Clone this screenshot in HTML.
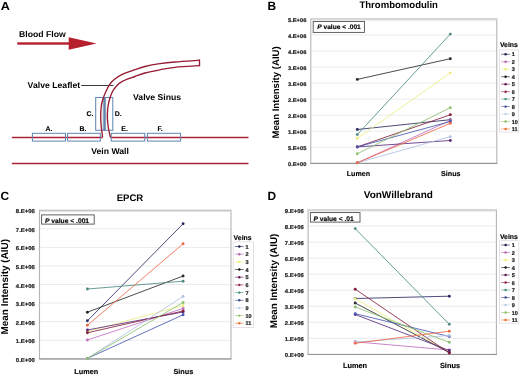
<!DOCTYPE html>
<html><head><meta charset="utf-8"><style>
html,body{margin:0;padding:0;background:#fff;width:520px;height:375px;overflow:hidden;font-family:"Liberation Sans", sans-serif;}
</style></head><body>
<svg width="520" height="375" viewBox="0 0 520 375" style="position:absolute;left:0;top:0;will-change:transform">
<g font-family='"Liberation Sans", sans-serif' text-rendering="geometricPrecision">
<text transform="translate(0.8,9.8) scale(1.1,1)" font-size="11.5" font-weight="bold" text-anchor="start" fill="#000" >A</text>
<text transform="translate(19.0,37.0) scale(1.02,1)" font-size="8.5" font-weight="bold" text-anchor="start" fill="#000" >Blood Flow</text>
<rect x="17.3" y="42.3" width="53" height="2.4" fill="#b71f2f"/>
<polygon points="68.7,37.3 96.6,43.6 68.7,49.8" fill="#b71f2f"/>
<text transform="translate(27.6,87.7) scale(1.02,1)" font-size="8.5" font-weight="bold" text-anchor="start" fill="#000" >Valve Leaflet</text>
<line x1="81.2" y1="85.5" x2="113.5" y2="85.5" stroke="#3c3c3c" stroke-width="1"/>
<text transform="translate(133.0,99.6) scale(1.02,1)" font-size="8.5" font-weight="bold" text-anchor="start" fill="#000" >Valve Sinus</text>
<text transform="translate(91.2,153.5) scale(1.02,1)" font-size="8.5" font-weight="bold" text-anchor="start" fill="#000" >Vein Wall</text>
<line x1="11.8" y1="137.4" x2="102.6" y2="137.4" stroke="#aa2438" stroke-width="1.45"/>
<line x1="110.4" y1="137.4" x2="248.5" y2="137.4" stroke="#aa2438" stroke-width="1.45"/>
<line x1="11.8" y1="163.5" x2="248.5" y2="163.5" stroke="#aa2438" stroke-width="1.45"/>
<rect x="32.4" y="133.3" width="33.10" height="7.8" fill="none" stroke="#5f84b2" stroke-width="1"/>
<text x="45.5" y="131.0" font-size="6.9" font-weight="bold" text-anchor="start" fill="#000"  stroke="#000" stroke-width="0.14">A.</text>
<rect x="67.6" y="133.3" width="32.70" height="7.8" fill="none" stroke="#5f84b2" stroke-width="1"/>
<text x="79.6" y="131.0" font-size="6.9" font-weight="bold" text-anchor="start" fill="#000"  stroke="#000" stroke-width="0.14">B.</text>
<rect x="111.2" y="133.3" width="33.60" height="7.8" fill="none" stroke="#5f84b2" stroke-width="1"/>
<text x="121.3" y="131.0" font-size="6.9" font-weight="bold" text-anchor="start" fill="#000"  stroke="#000" stroke-width="0.14">E.</text>
<rect x="147.4" y="133.3" width="33.20" height="7.8" fill="none" stroke="#5f84b2" stroke-width="1"/>
<text x="157.4" y="131.0" font-size="6.9" font-weight="bold" text-anchor="start" fill="#000"  stroke="#000" stroke-width="0.14">F.</text>
<rect x="102.7" y="97.5" width="3.4" height="32.8" fill="#94a9c0"/>
<rect x="95.7" y="97.5" width="9" height="32.8" fill="none" stroke="#5f84b2" stroke-width="1"/>
<rect x="104.4" y="97.5" width="8.4" height="32.8" fill="none" stroke="#5f84b2" stroke-width="1"/>
<text x="86.5" y="115.6" font-size="6.9" font-weight="bold" text-anchor="start" fill="#000"  stroke="#000" stroke-width="0.14">C.</text>
<text x="114.8" y="115.6" font-size="6.9" font-weight="bold" text-anchor="start" fill="#000"  stroke="#000" stroke-width="0.14">D.</text>
<path d="M102.6,137.2 C102.37,135.33 101.52,129.53 101.2,126 C100.88,122.47 100.68,119.33 100.7,116 C100.72,112.67 100.95,108.75 101.3,106 C101.65,103.25 102.07,101.83 102.8,99.5 C103.53,97.17 104.60,94.45 105.7,92 C106.80,89.55 107.98,86.87 109.4,84.8 C110.82,82.73 112.15,81.30 114.2,79.6 C116.25,77.90 118.23,76.25 121.7,74.6 C125.17,72.95 131.12,71.05 135,69.7 C138.88,68.35 140.83,67.50 145,66.5 C149.17,65.50 155.00,64.45 160,63.7 C165.00,62.95 168.42,62.58 175,62 C181.58,61.42 195.42,60.50 199.5,60.2" fill="none" stroke="#981c34" stroke-width="1.35"/>
<path d="M110.4,137.2 C110.07,135.67 108.90,131.20 108.4,128 C107.90,124.80 107.52,121.17 107.4,118 C107.28,114.83 107.40,111.92 107.7,109 C108.00,106.08 108.48,103.25 109.2,100.5 C109.92,97.75 110.82,94.88 112,92.5 C113.18,90.12 114.52,88.08 116.3,86.2 C118.08,84.32 119.58,82.82 122.7,81.2 C125.82,79.58 131.28,77.87 135,76.5 C138.72,75.13 140.83,74.12 145,73 C149.17,71.88 155.00,70.75 160,69.8 C165.00,68.85 168.42,68.00 175,67.3 C181.58,66.60 195.42,65.88 199.5,65.6" fill="none" stroke="#981c34" stroke-width="1.35"/>
<line x1="199.5" y1="59.5" x2="199.5" y2="66.3" stroke="#981c34" stroke-width="1.35"/>
<text x="267.6" y="9.6" font-size="11.9" font-weight="bold" text-anchor="start" fill="#000" >B</text>
<line x1="310.8" y1="147.18" x2="496.8" y2="147.18" stroke="#ebebeb" stroke-width="1"/>
<line x1="310.8" y1="131.16" x2="496.8" y2="131.16" stroke="#ebebeb" stroke-width="1"/>
<line x1="310.8" y1="115.13" x2="496.8" y2="115.13" stroke="#ebebeb" stroke-width="1"/>
<line x1="310.8" y1="99.11" x2="496.8" y2="99.11" stroke="#ebebeb" stroke-width="1"/>
<line x1="310.8" y1="83.09" x2="496.8" y2="83.09" stroke="#ebebeb" stroke-width="1"/>
<line x1="310.8" y1="67.07" x2="496.8" y2="67.07" stroke="#ebebeb" stroke-width="1"/>
<line x1="310.8" y1="51.04" x2="496.8" y2="51.04" stroke="#ebebeb" stroke-width="1"/>
<line x1="310.8" y1="35.02" x2="496.8" y2="35.02" stroke="#ebebeb" stroke-width="1"/>
<rect x="310.8" y="19" width="186.00" height="144.20" fill="none" stroke="#b4b4b4" stroke-width="1.1"/>
<line x1="310.8" y1="20" x2="496.8" y2="20" stroke="#dcdcdc" stroke-width="1"/>
<line x1="310.3" y1="163.5" x2="497.3" y2="163.5" stroke="#949494" stroke-width="1.05"/>
<text transform="translate(306.4,166.19) scale(1.06,1)" font-size="5.45" font-weight="bold" text-anchor="end" fill="#1e1e1e"  stroke="#1e1e1e" stroke-width="0.22">0.E+00</text>
<text transform="translate(306.4,150.16) scale(1.06,1)" font-size="5.45" font-weight="bold" text-anchor="end" fill="#1e1e1e"  stroke="#1e1e1e" stroke-width="0.22">5.E+05</text>
<text transform="translate(306.4,134.14) scale(1.06,1)" font-size="5.45" font-weight="bold" text-anchor="end" fill="#1e1e1e"  stroke="#1e1e1e" stroke-width="0.22">1.E+06</text>
<text transform="translate(306.4,118.12) scale(1.06,1)" font-size="5.45" font-weight="bold" text-anchor="end" fill="#1e1e1e"  stroke="#1e1e1e" stroke-width="0.22">2.E+06</text>
<text transform="translate(306.4,102.10) scale(1.06,1)" font-size="5.45" font-weight="bold" text-anchor="end" fill="#1e1e1e"  stroke="#1e1e1e" stroke-width="0.22">2.E+06</text>
<text transform="translate(306.4,86.08) scale(1.06,1)" font-size="5.45" font-weight="bold" text-anchor="end" fill="#1e1e1e"  stroke="#1e1e1e" stroke-width="0.22">3.E+06</text>
<text transform="translate(306.4,70.05) scale(1.06,1)" font-size="5.45" font-weight="bold" text-anchor="end" fill="#1e1e1e"  stroke="#1e1e1e" stroke-width="0.22">3.E+06</text>
<text transform="translate(306.4,54.03) scale(1.06,1)" font-size="5.45" font-weight="bold" text-anchor="end" fill="#1e1e1e"  stroke="#1e1e1e" stroke-width="0.22">4.E+06</text>
<text transform="translate(306.4,38.01) scale(1.06,1)" font-size="5.45" font-weight="bold" text-anchor="end" fill="#1e1e1e"  stroke="#1e1e1e" stroke-width="0.22">4.E+06</text>
<text transform="translate(306.4,21.99) scale(1.06,1)" font-size="5.45" font-weight="bold" text-anchor="end" fill="#1e1e1e"  stroke="#1e1e1e" stroke-width="0.22">5.E+06</text>
<text x="0" y="0" font-size="9.6" font-weight="bold" text-anchor="middle" transform="translate(279.1,92.4) rotate(-90)">Mean Intensity (AIU)</text>
<text x="398.7" y="7.7" font-size="9.55" font-weight="bold" text-anchor="middle" fill="#000" >Thrombomodulin</text>
<rect x="313.2" y="21.5" width="51.20" height="10.90" fill="#fff" stroke="#505050" stroke-width="0.9"/>
<text x="317.3" y="29.3" font-size="6.6" font-weight="bold" stroke="#000" stroke-width="0.15"><tspan font-style="italic">P</tspan> value &lt; .001</text>
<text x="358.4" y="175.6" font-size="7.15" font-weight="bold" text-anchor="middle" fill="#000"  stroke="#000" stroke-width="0.14">Lumen</text>
<text x="450.8" y="175.6" font-size="7.15" font-weight="bold" text-anchor="middle" fill="#000"  stroke="#000" stroke-width="0.14">Sinus</text>
<line x1="357.3" y1="129.5" x2="450.3" y2="119.7" stroke="#2c2c66" stroke-width="0.85"/>
<circle cx="357.3" cy="129.5" r="1.45" fill="#2c2c66"/>
<circle cx="450.3" cy="119.7" r="1.45" fill="#2c2c66"/>
<line x1="357.3" y1="162.8" x2="450.3" y2="120.5" stroke="#c070c0" stroke-width="0.85"/>
<circle cx="357.3" cy="162.8" r="1.45" fill="#c070c0"/>
<circle cx="450.3" cy="120.5" r="1.45" fill="#c070c0"/>
<line x1="357.3" y1="138.3" x2="450.3" y2="72.9" stroke="#ecec84" stroke-width="0.85"/>
<circle cx="357.3" cy="138.3" r="1.45" fill="#ecec84"/>
<circle cx="450.3" cy="72.9" r="1.45" fill="#ecec84"/>
<line x1="357.3" y1="79.4" x2="450.3" y2="58.7" stroke="#2a2a2a" stroke-width="0.85"/>
<circle cx="357.3" cy="79.4" r="1.45" fill="#2a2a2a"/>
<circle cx="450.3" cy="58.7" r="1.45" fill="#2a2a2a"/>
<line x1="357.3" y1="146.9" x2="450.3" y2="140.5" stroke="#5c2c80" stroke-width="0.85"/>
<circle cx="357.3" cy="146.9" r="1.45" fill="#5c2c80"/>
<circle cx="450.3" cy="140.5" r="1.45" fill="#5c2c80"/>
<line x1="357.3" y1="146.9" x2="450.3" y2="114.8" stroke="#862040" stroke-width="0.85"/>
<circle cx="357.3" cy="146.9" r="1.45" fill="#862040"/>
<circle cx="450.3" cy="114.8" r="1.45" fill="#862040"/>
<line x1="357.3" y1="134.6" x2="450.3" y2="34.1" stroke="#4e8a84" stroke-width="0.85"/>
<circle cx="357.3" cy="134.6" r="1.45" fill="#4e8a84"/>
<circle cx="450.3" cy="34.1" r="1.45" fill="#4e8a84"/>
<line x1="357.3" y1="146.9" x2="450.3" y2="121.5" stroke="#4858b0" stroke-width="0.85"/>
<circle cx="357.3" cy="146.9" r="1.45" fill="#4858b0"/>
<circle cx="450.3" cy="121.5" r="1.45" fill="#4858b0"/>
<line x1="357.3" y1="162.8" x2="450.3" y2="136.6" stroke="#b0c2e4" stroke-width="0.85"/>
<circle cx="357.3" cy="162.8" r="1.45" fill="#b0c2e4"/>
<circle cx="450.3" cy="136.6" r="1.45" fill="#b0c2e4"/>
<line x1="357.3" y1="153.8" x2="450.3" y2="107.7" stroke="#8cc070" stroke-width="0.85"/>
<circle cx="357.3" cy="153.8" r="1.45" fill="#8cc070"/>
<circle cx="450.3" cy="107.7" r="1.45" fill="#8cc070"/>
<line x1="357.3" y1="162.8" x2="450.3" y2="123.3" stroke="#ec6a48" stroke-width="0.85"/>
<circle cx="357.3" cy="162.8" r="1.45" fill="#ec6a48"/>
<circle cx="450.3" cy="123.3" r="1.45" fill="#ec6a48"/>
<text x="508.9" y="46.9" font-size="6.9" font-weight="bold" text-anchor="middle" fill="#000"  stroke="#000" stroke-width="0.14">Veins</text>
<rect x="499.5" y="49.9" width="19.00" height="82.10" fill="none" stroke="#e2dae2" stroke-width="0.8"/>
<line x1="501.2" y1="54.3" x2="509.9" y2="54.3" stroke="#1c1c50" stroke-width="0.8" opacity="0.75"/>
<circle cx="505.6" cy="54.3" r="1.2" fill="#1c1c50"/>
<text x="511.7" y="56.3" font-size="5.5" font-weight="bold" text-anchor="start" fill="#1e1e1e"  stroke="#1e1e1e" stroke-width="0.22">1</text>
<line x1="501.2" y1="61.8" x2="509.9" y2="61.8" stroke="#b862b0" stroke-width="0.8" opacity="0.75"/>
<circle cx="505.6" cy="61.8" r="1.2" fill="#b862b0"/>
<text x="511.7" y="63.8" font-size="5.5" font-weight="bold" text-anchor="start" fill="#1e1e1e"  stroke="#1e1e1e" stroke-width="0.22">2</text>
<line x1="501.2" y1="69.2" x2="509.9" y2="69.2" stroke="#eeee78" stroke-width="0.8" opacity="0.75"/>
<circle cx="505.6" cy="69.2" r="1.2" fill="#eeee78"/>
<text x="511.7" y="71.2" font-size="5.5" font-weight="bold" text-anchor="start" fill="#1e1e1e"  stroke="#1e1e1e" stroke-width="0.22">3</text>
<line x1="501.2" y1="76.7" x2="509.9" y2="76.7" stroke="#141414" stroke-width="0.8" opacity="0.75"/>
<circle cx="505.6" cy="76.7" r="1.2" fill="#141414"/>
<text x="511.7" y="78.7" font-size="5.5" font-weight="bold" text-anchor="start" fill="#1e1e1e"  stroke="#1e1e1e" stroke-width="0.22">4</text>
<line x1="501.2" y1="84.2" x2="509.9" y2="84.2" stroke="#5e1652" stroke-width="0.8" opacity="0.75"/>
<circle cx="505.6" cy="84.2" r="1.2" fill="#5e1652"/>
<text x="511.7" y="86.2" font-size="5.5" font-weight="bold" text-anchor="start" fill="#1e1e1e"  stroke="#1e1e1e" stroke-width="0.22">5</text>
<line x1="501.2" y1="91.7" x2="509.9" y2="91.7" stroke="#922052" stroke-width="0.8" opacity="0.75"/>
<circle cx="505.6" cy="91.7" r="1.2" fill="#922052"/>
<text x="511.7" y="93.7" font-size="5.5" font-weight="bold" text-anchor="start" fill="#1e1e1e"  stroke="#1e1e1e" stroke-width="0.22">6</text>
<line x1="501.2" y1="99.1" x2="509.9" y2="99.1" stroke="#3c9070" stroke-width="0.8" opacity="0.75"/>
<circle cx="505.6" cy="99.1" r="1.2" fill="#3c9070"/>
<text x="511.7" y="101.1" font-size="5.5" font-weight="bold" text-anchor="start" fill="#1e1e1e"  stroke="#1e1e1e" stroke-width="0.22">7</text>
<line x1="501.2" y1="106.6" x2="509.9" y2="106.6" stroke="#3a4a94" stroke-width="0.8" opacity="0.75"/>
<circle cx="505.6" cy="106.6" r="1.2" fill="#3a4a94"/>
<text x="511.7" y="108.6" font-size="5.5" font-weight="bold" text-anchor="start" fill="#1e1e1e"  stroke="#1e1e1e" stroke-width="0.22">8</text>
<line x1="501.2" y1="114.1" x2="509.9" y2="114.1" stroke="#bccbe8" stroke-width="0.8" opacity="0.75"/>
<circle cx="505.6" cy="114.1" r="1.2" fill="#bccbe8"/>
<text x="511.7" y="116.1" font-size="5.5" font-weight="bold" text-anchor="start" fill="#1e1e1e"  stroke="#1e1e1e" stroke-width="0.22">9</text>
<line x1="501.2" y1="121.5" x2="509.9" y2="121.5" stroke="#90c064" stroke-width="0.8" opacity="0.75"/>
<circle cx="505.6" cy="121.5" r="1.2" fill="#90c064"/>
<text x="511.7" y="123.5" font-size="5.5" font-weight="bold" text-anchor="start" fill="#1e1e1e"  stroke="#1e1e1e" stroke-width="0.22">10</text>
<line x1="501.2" y1="129.0" x2="509.9" y2="129.0" stroke="#f07030" stroke-width="0.8" opacity="0.75"/>
<circle cx="505.6" cy="129.0" r="1.2" fill="#f07030"/>
<text x="511.7" y="131.0" font-size="5.5" font-weight="bold" text-anchor="start" fill="#1e1e1e"  stroke="#1e1e1e" stroke-width="0.22">11</text>
<text x="0.5" y="199.7" font-size="11.9" font-weight="bold" text-anchor="start" fill="#000" >C</text>
<line x1="39.5" y1="340.24" x2="231" y2="340.24" stroke="#ebebeb" stroke-width="1"/>
<line x1="39.5" y1="321.68" x2="231" y2="321.68" stroke="#ebebeb" stroke-width="1"/>
<line x1="39.5" y1="303.11" x2="231" y2="303.11" stroke="#ebebeb" stroke-width="1"/>
<line x1="39.5" y1="284.55" x2="231" y2="284.55" stroke="#ebebeb" stroke-width="1"/>
<line x1="39.5" y1="265.99" x2="231" y2="265.99" stroke="#ebebeb" stroke-width="1"/>
<line x1="39.5" y1="247.43" x2="231" y2="247.43" stroke="#ebebeb" stroke-width="1"/>
<line x1="39.5" y1="228.86" x2="231" y2="228.86" stroke="#ebebeb" stroke-width="1"/>
<rect x="39.5" y="210.3" width="191.50" height="148.50" fill="none" stroke="#b4b4b4" stroke-width="1.1"/>
<line x1="39.5" y1="211.3" x2="231" y2="211.3" stroke="#dcdcdc" stroke-width="1"/>
<line x1="39.0" y1="358.9" x2="231.5" y2="358.9" stroke="#949494" stroke-width="1.05"/>
<text transform="translate(34.8,361.84) scale(1.06,1)" font-size="5.6" font-weight="bold" text-anchor="end" fill="#1e1e1e"  stroke="#1e1e1e" stroke-width="0.22">0.E+00</text>
<text transform="translate(34.8,343.28) scale(1.06,1)" font-size="5.6" font-weight="bold" text-anchor="end" fill="#1e1e1e"  stroke="#1e1e1e" stroke-width="0.22">1.E+06</text>
<text transform="translate(34.8,324.72) scale(1.06,1)" font-size="5.6" font-weight="bold" text-anchor="end" fill="#1e1e1e"  stroke="#1e1e1e" stroke-width="0.22">2.E+06</text>
<text transform="translate(34.8,306.15) scale(1.06,1)" font-size="5.6" font-weight="bold" text-anchor="end" fill="#1e1e1e"  stroke="#1e1e1e" stroke-width="0.22">3.E+06</text>
<text transform="translate(34.8,287.59) scale(1.06,1)" font-size="5.6" font-weight="bold" text-anchor="end" fill="#1e1e1e"  stroke="#1e1e1e" stroke-width="0.22">4.E+06</text>
<text transform="translate(34.8,269.03) scale(1.06,1)" font-size="5.6" font-weight="bold" text-anchor="end" fill="#1e1e1e"  stroke="#1e1e1e" stroke-width="0.22">5.E+06</text>
<text transform="translate(34.8,250.47) scale(1.06,1)" font-size="5.6" font-weight="bold" text-anchor="end" fill="#1e1e1e"  stroke="#1e1e1e" stroke-width="0.22">6.E+06</text>
<text transform="translate(34.8,231.90) scale(1.06,1)" font-size="5.6" font-weight="bold" text-anchor="end" fill="#1e1e1e"  stroke="#1e1e1e" stroke-width="0.22">7.E+06</text>
<text transform="translate(34.8,213.34) scale(1.06,1)" font-size="5.6" font-weight="bold" text-anchor="end" fill="#1e1e1e"  stroke="#1e1e1e" stroke-width="0.22">8.E+06</text>
<text x="0" y="0" font-size="9.95" font-weight="bold" text-anchor="middle" transform="translate(8.0,286.7) rotate(-90)">Mean Intensity (AIU)</text>
<text x="130" y="201.1" font-size="9.55" font-weight="bold" text-anchor="middle" fill="#000" >EPCR</text>
<rect x="41.6" y="214.9" width="52.60" height="9.20" fill="#fff" stroke="#505050" stroke-width="0.9"/>
<text x="45.0" y="222.6" font-size="6.7" font-weight="bold" stroke="#000" stroke-width="0.15"><tspan font-style="italic">P</tspan> value &lt; .001</text>
<text x="86.3" y="373.8" font-size="7.3" font-weight="bold" text-anchor="middle" fill="#000"  stroke="#000" stroke-width="0.14">Lumen</text>
<text x="183.4" y="373.8" font-size="7.3" font-weight="bold" text-anchor="middle" fill="#000"  stroke="#000" stroke-width="0.14">Sinus</text>
<line x1="87.4" y1="320.8" x2="183.1" y2="223.8" stroke="#2c2c66" stroke-width="0.85"/>
<circle cx="87.4" cy="320.8" r="1.45" fill="#2c2c66"/>
<circle cx="183.1" cy="223.8" r="1.45" fill="#2c2c66"/>
<line x1="87.4" y1="340.0" x2="183.1" y2="308.4" stroke="#c070c0" stroke-width="0.85"/>
<circle cx="87.4" cy="340.0" r="1.45" fill="#c070c0"/>
<circle cx="183.1" cy="308.4" r="1.45" fill="#c070c0"/>
<line x1="87.4" y1="331.5" x2="183.1" y2="305.5" stroke="#ecec84" stroke-width="0.85"/>
<circle cx="87.4" cy="331.5" r="1.45" fill="#ecec84"/>
<circle cx="183.1" cy="305.5" r="1.45" fill="#ecec84"/>
<line x1="87.4" y1="312.2" x2="183.1" y2="276.0" stroke="#2a2a2a" stroke-width="0.85"/>
<circle cx="87.4" cy="312.2" r="1.45" fill="#2a2a2a"/>
<circle cx="183.1" cy="276.0" r="1.45" fill="#2a2a2a"/>
<line x1="87.4" y1="330.0" x2="183.1" y2="312.0" stroke="#5c2c80" stroke-width="0.85"/>
<circle cx="87.4" cy="330.0" r="1.45" fill="#5c2c80"/>
<circle cx="183.1" cy="312.0" r="1.45" fill="#5c2c80"/>
<line x1="87.4" y1="332.8" x2="183.1" y2="311.0" stroke="#862040" stroke-width="0.85"/>
<circle cx="87.4" cy="332.8" r="1.45" fill="#862040"/>
<circle cx="183.1" cy="311.0" r="1.45" fill="#862040"/>
<line x1="87.4" y1="289.0" x2="183.1" y2="281.2" stroke="#4e8a84" stroke-width="0.85"/>
<circle cx="87.4" cy="289.0" r="1.45" fill="#4e8a84"/>
<circle cx="183.1" cy="281.2" r="1.45" fill="#4e8a84"/>
<line x1="87.4" y1="358.4" x2="183.1" y2="314.8" stroke="#4858b0" stroke-width="0.85"/>
<circle cx="87.4" cy="358.4" r="1.45" fill="#4858b0"/>
<circle cx="183.1" cy="314.8" r="1.45" fill="#4858b0"/>
<line x1="87.4" y1="358.4" x2="183.1" y2="296.4" stroke="#b0c2e4" stroke-width="0.85"/>
<circle cx="87.4" cy="358.4" r="1.45" fill="#b0c2e4"/>
<circle cx="183.1" cy="296.4" r="1.45" fill="#b0c2e4"/>
<line x1="87.4" y1="358.4" x2="183.1" y2="302.5" stroke="#8cc070" stroke-width="0.85"/>
<circle cx="87.4" cy="358.4" r="1.45" fill="#8cc070"/>
<circle cx="183.1" cy="302.5" r="1.45" fill="#8cc070"/>
<line x1="87.4" y1="325.3" x2="183.1" y2="243.8" stroke="#ec6a48" stroke-width="0.85"/>
<circle cx="87.4" cy="325.3" r="1.45" fill="#ec6a48"/>
<circle cx="183.1" cy="243.8" r="1.45" fill="#ec6a48"/>
<text x="242.6" y="239.5" font-size="6.9" font-weight="bold" text-anchor="middle" fill="#000"  stroke="#000" stroke-width="0.14">Veins</text>
<rect x="233.2" y="241.9" width="20.20" height="85.70" fill="none" stroke="#e2dae2" stroke-width="0.8"/>
<line x1="234.89999999999998" y1="246.5" x2="243.6" y2="246.5" stroke="#1c1c50" stroke-width="0.8" opacity="0.75"/>
<circle cx="239.29999999999998" cy="246.5" r="1.2" fill="#1c1c50"/>
<text x="245.39999999999998" y="248.5" font-size="5.5" font-weight="bold" text-anchor="start" fill="#1e1e1e"  stroke="#1e1e1e" stroke-width="0.22">1</text>
<line x1="234.89999999999998" y1="254.2" x2="243.6" y2="254.2" stroke="#b862b0" stroke-width="0.8" opacity="0.75"/>
<circle cx="239.29999999999998" cy="254.2" r="1.2" fill="#b862b0"/>
<text x="245.39999999999998" y="256.2" font-size="5.5" font-weight="bold" text-anchor="start" fill="#1e1e1e"  stroke="#1e1e1e" stroke-width="0.22">2</text>
<line x1="234.89999999999998" y1="261.9" x2="243.6" y2="261.9" stroke="#eeee78" stroke-width="0.8" opacity="0.75"/>
<circle cx="239.29999999999998" cy="261.9" r="1.2" fill="#eeee78"/>
<text x="245.39999999999998" y="263.9" font-size="5.5" font-weight="bold" text-anchor="start" fill="#1e1e1e"  stroke="#1e1e1e" stroke-width="0.22">3</text>
<line x1="234.89999999999998" y1="269.5" x2="243.6" y2="269.5" stroke="#141414" stroke-width="0.8" opacity="0.75"/>
<circle cx="239.29999999999998" cy="269.5" r="1.2" fill="#141414"/>
<text x="245.39999999999998" y="271.5" font-size="5.5" font-weight="bold" text-anchor="start" fill="#1e1e1e"  stroke="#1e1e1e" stroke-width="0.22">4</text>
<line x1="234.89999999999998" y1="277.2" x2="243.6" y2="277.2" stroke="#5e1652" stroke-width="0.8" opacity="0.75"/>
<circle cx="239.29999999999998" cy="277.2" r="1.2" fill="#5e1652"/>
<text x="245.39999999999998" y="279.2" font-size="5.5" font-weight="bold" text-anchor="start" fill="#1e1e1e"  stroke="#1e1e1e" stroke-width="0.22">5</text>
<line x1="234.89999999999998" y1="284.9" x2="243.6" y2="284.9" stroke="#922052" stroke-width="0.8" opacity="0.75"/>
<circle cx="239.29999999999998" cy="284.9" r="1.2" fill="#922052"/>
<text x="245.39999999999998" y="286.9" font-size="5.5" font-weight="bold" text-anchor="start" fill="#1e1e1e"  stroke="#1e1e1e" stroke-width="0.22">6</text>
<line x1="234.89999999999998" y1="292.6" x2="243.6" y2="292.6" stroke="#3c9070" stroke-width="0.8" opacity="0.75"/>
<circle cx="239.29999999999998" cy="292.6" r="1.2" fill="#3c9070"/>
<text x="245.39999999999998" y="294.6" font-size="5.5" font-weight="bold" text-anchor="start" fill="#1e1e1e"  stroke="#1e1e1e" stroke-width="0.22">7</text>
<line x1="234.89999999999998" y1="300.3" x2="243.6" y2="300.3" stroke="#3a4a94" stroke-width="0.8" opacity="0.75"/>
<circle cx="239.29999999999998" cy="300.3" r="1.2" fill="#3a4a94"/>
<text x="245.39999999999998" y="302.3" font-size="5.5" font-weight="bold" text-anchor="start" fill="#1e1e1e"  stroke="#1e1e1e" stroke-width="0.22">8</text>
<line x1="234.89999999999998" y1="307.9" x2="243.6" y2="307.9" stroke="#bccbe8" stroke-width="0.8" opacity="0.75"/>
<circle cx="239.29999999999998" cy="307.9" r="1.2" fill="#bccbe8"/>
<text x="245.39999999999998" y="309.9" font-size="5.5" font-weight="bold" text-anchor="start" fill="#1e1e1e"  stroke="#1e1e1e" stroke-width="0.22">9</text>
<line x1="234.89999999999998" y1="315.6" x2="243.6" y2="315.6" stroke="#90c064" stroke-width="0.8" opacity="0.75"/>
<circle cx="239.29999999999998" cy="315.6" r="1.2" fill="#90c064"/>
<text x="245.39999999999998" y="317.6" font-size="5.5" font-weight="bold" text-anchor="start" fill="#1e1e1e"  stroke="#1e1e1e" stroke-width="0.22">10</text>
<line x1="234.89999999999998" y1="323.3" x2="243.6" y2="323.3" stroke="#f07030" stroke-width="0.8" opacity="0.75"/>
<circle cx="239.29999999999998" cy="323.3" r="1.2" fill="#f07030"/>
<text x="245.39999999999998" y="325.3" font-size="5.5" font-weight="bold" text-anchor="start" fill="#1e1e1e"  stroke="#1e1e1e" stroke-width="0.22">11</text>
<text x="267.4" y="199.6" font-size="11.9" font-weight="bold" text-anchor="start" fill="#000" >D</text>
<line x1="308.1" y1="338.36" x2="496.4" y2="338.36" stroke="#ebebeb" stroke-width="1"/>
<line x1="308.1" y1="322.31" x2="496.4" y2="322.31" stroke="#ebebeb" stroke-width="1"/>
<line x1="308.1" y1="306.27" x2="496.4" y2="306.27" stroke="#ebebeb" stroke-width="1"/>
<line x1="308.1" y1="290.22" x2="496.4" y2="290.22" stroke="#ebebeb" stroke-width="1"/>
<line x1="308.1" y1="274.18" x2="496.4" y2="274.18" stroke="#ebebeb" stroke-width="1"/>
<line x1="308.1" y1="258.13" x2="496.4" y2="258.13" stroke="#ebebeb" stroke-width="1"/>
<line x1="308.1" y1="242.09" x2="496.4" y2="242.09" stroke="#ebebeb" stroke-width="1"/>
<line x1="308.1" y1="226.04" x2="496.4" y2="226.04" stroke="#ebebeb" stroke-width="1"/>
<rect x="308.1" y="210.0" width="188.30" height="144.40" fill="none" stroke="#b4b4b4" stroke-width="1.1"/>
<line x1="308.1" y1="211.0" x2="496.4" y2="211.0" stroke="#dcdcdc" stroke-width="1"/>
<line x1="307.6" y1="354.5" x2="496.9" y2="354.5" stroke="#949494" stroke-width="1.05"/>
<text transform="translate(303.8,357.44) scale(1.06,1)" font-size="5.6" font-weight="bold" text-anchor="end" fill="#1e1e1e"  stroke="#1e1e1e" stroke-width="0.22">0.E+00</text>
<text transform="translate(303.8,341.40) scale(1.06,1)" font-size="5.6" font-weight="bold" text-anchor="end" fill="#1e1e1e"  stroke="#1e1e1e" stroke-width="0.22">1.E+06</text>
<text transform="translate(303.8,325.35) scale(1.06,1)" font-size="5.6" font-weight="bold" text-anchor="end" fill="#1e1e1e"  stroke="#1e1e1e" stroke-width="0.22">2.E+06</text>
<text transform="translate(303.8,309.31) scale(1.06,1)" font-size="5.6" font-weight="bold" text-anchor="end" fill="#1e1e1e"  stroke="#1e1e1e" stroke-width="0.22">3.E+06</text>
<text transform="translate(303.8,293.26) scale(1.06,1)" font-size="5.6" font-weight="bold" text-anchor="end" fill="#1e1e1e"  stroke="#1e1e1e" stroke-width="0.22">4.E+06</text>
<text transform="translate(303.8,277.22) scale(1.06,1)" font-size="5.6" font-weight="bold" text-anchor="end" fill="#1e1e1e"  stroke="#1e1e1e" stroke-width="0.22">5.E+06</text>
<text transform="translate(303.8,261.17) scale(1.06,1)" font-size="5.6" font-weight="bold" text-anchor="end" fill="#1e1e1e"  stroke="#1e1e1e" stroke-width="0.22">6.E+06</text>
<text transform="translate(303.8,245.13) scale(1.06,1)" font-size="5.6" font-weight="bold" text-anchor="end" fill="#1e1e1e"  stroke="#1e1e1e" stroke-width="0.22">7.E+06</text>
<text transform="translate(303.8,229.09) scale(1.06,1)" font-size="5.6" font-weight="bold" text-anchor="end" fill="#1e1e1e"  stroke="#1e1e1e" stroke-width="0.22">8.E+06</text>
<text transform="translate(303.8,213.04) scale(1.06,1)" font-size="5.6" font-weight="bold" text-anchor="end" fill="#1e1e1e"  stroke="#1e1e1e" stroke-width="0.22">9.E+06</text>
<text x="0" y="0" font-size="9.85" font-weight="bold" text-anchor="middle" transform="translate(276.9,281.0) rotate(-90)">Mean Intensity (AIU)</text>
<text x="398.3" y="197.8" font-size="10.0" font-weight="bold" text-anchor="middle" fill="#000" >VonWillebrand</text>
<rect x="310.4" y="212.6" width="49.60" height="9.50" fill="#fff" stroke="#505050" stroke-width="0.9"/>
<text x="313.4" y="220.5" font-size="6.7" font-weight="bold" stroke="#000" stroke-width="0.15"><tspan font-style="italic">P</tspan> value &lt; .01</text>
<text x="355" y="367.6" font-size="7.4" font-weight="bold" text-anchor="middle" fill="#000"  stroke="#000" stroke-width="0.14">Lumen</text>
<text x="450" y="367.6" font-size="7.4" font-weight="bold" text-anchor="middle" fill="#000"  stroke="#000" stroke-width="0.14">Sinus</text>
<line x1="355.2" y1="298.5" x2="449.3" y2="296.2" stroke="#2c2c66" stroke-width="0.85"/>
<circle cx="355.2" cy="298.5" r="1.45" fill="#2c2c66"/>
<circle cx="449.3" cy="296.2" r="1.45" fill="#2c2c66"/>
<line x1="355.2" y1="341.8" x2="449.3" y2="350.0" stroke="#c070c0" stroke-width="0.85"/>
<circle cx="355.2" cy="341.8" r="1.45" fill="#c070c0"/>
<circle cx="449.3" cy="350.0" r="1.45" fill="#c070c0"/>
<line x1="355.2" y1="298.8" x2="449.3" y2="352.0" stroke="#ecec84" stroke-width="0.85"/>
<circle cx="355.2" cy="298.8" r="1.45" fill="#ecec84"/>
<circle cx="449.3" cy="352.0" r="1.45" fill="#ecec84"/>
<line x1="355.2" y1="303.0" x2="449.3" y2="352.5" stroke="#2a2a2a" stroke-width="0.85"/>
<circle cx="355.2" cy="303.0" r="1.45" fill="#2a2a2a"/>
<circle cx="449.3" cy="352.5" r="1.45" fill="#2a2a2a"/>
<line x1="355.2" y1="314.5" x2="449.3" y2="350.5" stroke="#5c2c80" stroke-width="0.85"/>
<circle cx="355.2" cy="314.5" r="1.45" fill="#5c2c80"/>
<circle cx="449.3" cy="350.5" r="1.45" fill="#5c2c80"/>
<line x1="355.2" y1="289.2" x2="449.3" y2="353.0" stroke="#862040" stroke-width="0.85"/>
<circle cx="355.2" cy="289.2" r="1.45" fill="#862040"/>
<circle cx="449.3" cy="353.0" r="1.45" fill="#862040"/>
<line x1="355.2" y1="228.6" x2="449.3" y2="324.3" stroke="#4e8a84" stroke-width="0.85"/>
<circle cx="355.2" cy="228.6" r="1.45" fill="#4e8a84"/>
<circle cx="449.3" cy="324.3" r="1.45" fill="#4e8a84"/>
<line x1="355.2" y1="313.7" x2="449.3" y2="336.5" stroke="#4858b0" stroke-width="0.85"/>
<circle cx="355.2" cy="313.7" r="1.45" fill="#4858b0"/>
<circle cx="449.3" cy="336.5" r="1.45" fill="#4858b0"/>
<line x1="355.2" y1="342.0" x2="449.3" y2="335.5" stroke="#b0c2e4" stroke-width="0.85"/>
<circle cx="355.2" cy="342.0" r="1.45" fill="#b0c2e4"/>
<circle cx="449.3" cy="335.5" r="1.45" fill="#b0c2e4"/>
<line x1="355.2" y1="307.0" x2="449.3" y2="342.3" stroke="#8cc070" stroke-width="0.85"/>
<circle cx="355.2" cy="307.0" r="1.45" fill="#8cc070"/>
<circle cx="449.3" cy="342.3" r="1.45" fill="#8cc070"/>
<line x1="355.2" y1="343.3" x2="449.3" y2="331.2" stroke="#ec6a48" stroke-width="0.85"/>
<circle cx="355.2" cy="343.3" r="1.45" fill="#ec6a48"/>
<circle cx="449.3" cy="331.2" r="1.45" fill="#ec6a48"/>
<text x="508.9" y="238.9" font-size="6.9" font-weight="bold" text-anchor="middle" fill="#000"  stroke="#000" stroke-width="0.14">Veins</text>
<rect x="499.5" y="240.7" width="19.30" height="82.50" fill="none" stroke="#e2dae2" stroke-width="0.8"/>
<line x1="501.2" y1="245.0" x2="509.9" y2="245.0" stroke="#1c1c50" stroke-width="0.8" opacity="0.75"/>
<circle cx="505.6" cy="245.0" r="1.2" fill="#1c1c50"/>
<text x="511.7" y="247.0" font-size="5.5" font-weight="bold" text-anchor="start" fill="#1e1e1e"  stroke="#1e1e1e" stroke-width="0.22">1</text>
<line x1="501.2" y1="252.5" x2="509.9" y2="252.5" stroke="#b862b0" stroke-width="0.8" opacity="0.75"/>
<circle cx="505.6" cy="252.5" r="1.2" fill="#b862b0"/>
<text x="511.7" y="254.5" font-size="5.5" font-weight="bold" text-anchor="start" fill="#1e1e1e"  stroke="#1e1e1e" stroke-width="0.22">2</text>
<line x1="501.2" y1="260.0" x2="509.9" y2="260.0" stroke="#eeee78" stroke-width="0.8" opacity="0.75"/>
<circle cx="505.6" cy="260.0" r="1.2" fill="#eeee78"/>
<text x="511.7" y="262.0" font-size="5.5" font-weight="bold" text-anchor="start" fill="#1e1e1e"  stroke="#1e1e1e" stroke-width="0.22">3</text>
<line x1="501.2" y1="267.5" x2="509.9" y2="267.5" stroke="#141414" stroke-width="0.8" opacity="0.75"/>
<circle cx="505.6" cy="267.5" r="1.2" fill="#141414"/>
<text x="511.7" y="269.5" font-size="5.5" font-weight="bold" text-anchor="start" fill="#1e1e1e"  stroke="#1e1e1e" stroke-width="0.22">4</text>
<line x1="501.2" y1="275.0" x2="509.9" y2="275.0" stroke="#5e1652" stroke-width="0.8" opacity="0.75"/>
<circle cx="505.6" cy="275.0" r="1.2" fill="#5e1652"/>
<text x="511.7" y="277.0" font-size="5.5" font-weight="bold" text-anchor="start" fill="#1e1e1e"  stroke="#1e1e1e" stroke-width="0.22">5</text>
<line x1="501.2" y1="282.5" x2="509.9" y2="282.5" stroke="#922052" stroke-width="0.8" opacity="0.75"/>
<circle cx="505.6" cy="282.5" r="1.2" fill="#922052"/>
<text x="511.7" y="284.5" font-size="5.5" font-weight="bold" text-anchor="start" fill="#1e1e1e"  stroke="#1e1e1e" stroke-width="0.22">6</text>
<line x1="501.2" y1="290.0" x2="509.9" y2="290.0" stroke="#3c9070" stroke-width="0.8" opacity="0.75"/>
<circle cx="505.6" cy="290.0" r="1.2" fill="#3c9070"/>
<text x="511.7" y="292.0" font-size="5.5" font-weight="bold" text-anchor="start" fill="#1e1e1e"  stroke="#1e1e1e" stroke-width="0.22">7</text>
<line x1="501.2" y1="297.5" x2="509.9" y2="297.5" stroke="#3a4a94" stroke-width="0.8" opacity="0.75"/>
<circle cx="505.6" cy="297.5" r="1.2" fill="#3a4a94"/>
<text x="511.7" y="299.5" font-size="5.5" font-weight="bold" text-anchor="start" fill="#1e1e1e"  stroke="#1e1e1e" stroke-width="0.22">8</text>
<line x1="501.2" y1="305.0" x2="509.9" y2="305.0" stroke="#bccbe8" stroke-width="0.8" opacity="0.75"/>
<circle cx="505.6" cy="305.0" r="1.2" fill="#bccbe8"/>
<text x="511.7" y="307.0" font-size="5.5" font-weight="bold" text-anchor="start" fill="#1e1e1e"  stroke="#1e1e1e" stroke-width="0.22">9</text>
<line x1="501.2" y1="312.5" x2="509.9" y2="312.5" stroke="#90c064" stroke-width="0.8" opacity="0.75"/>
<circle cx="505.6" cy="312.5" r="1.2" fill="#90c064"/>
<text x="511.7" y="314.5" font-size="5.5" font-weight="bold" text-anchor="start" fill="#1e1e1e"  stroke="#1e1e1e" stroke-width="0.22">10</text>
<line x1="501.2" y1="320.0" x2="509.9" y2="320.0" stroke="#f07030" stroke-width="0.8" opacity="0.75"/>
<circle cx="505.6" cy="320.0" r="1.2" fill="#f07030"/>
<text x="511.7" y="322.0" font-size="5.5" font-weight="bold" text-anchor="start" fill="#1e1e1e"  stroke="#1e1e1e" stroke-width="0.22">11</text>
</g></svg>
</body></html>
